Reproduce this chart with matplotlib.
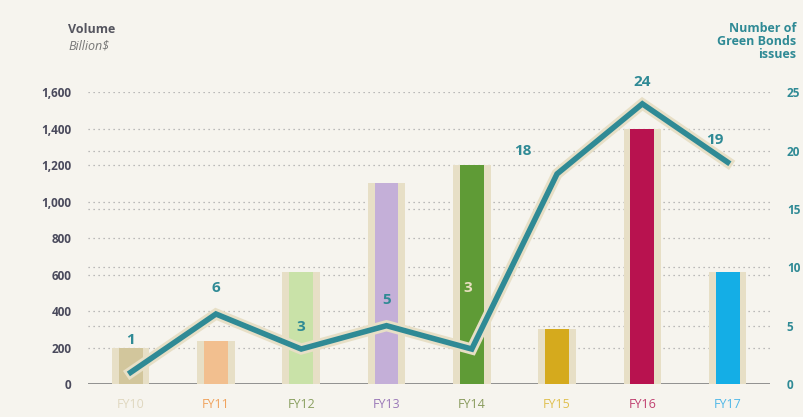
import numpy as np
import matplotlib.pyplot as plt
import matplotlib.patheffects as pe

years = ["FY10", "FY11", "FY12", "FY13", "FY14", "FY15", "FY16", "FY17"]
volume = [200, 235, 615, 1100, 1200, 300, 1400, 615]
issues = [1, 6, 3, 5, 3, 18, 24, 19]
bar_colors = ["#d2c69c", "#f2bf8f", "#c9e2a8", "#c4afd8", "#5f9b36", "#d5aa1d", "#b8124f", "#14aee6"]
label_colors = ["#e0d8c0", "#f0a35e", "#8aa060", "#9a78b8", "#8a9c5e", "#e0c050", "#c04070", "#50b8e8"]
left_ticks = [0, 200, 400, 600, 800, 1000, 1200, 1400, 1600]
right_ticks = [0, 5, 10, 15, 20, 25]

bg = "#f6f4ee"
teal = "#2f8a95"
halo = "#e7dfc6"

plt.rcParams['font.family'] = ['Open Sans', 'DejaVu Sans']

fig = plt.figure(figsize=(8.04, 4.17), dpi=100, facecolor=bg)
ax = fig.add_axes([0.1095, 0.079, 0.8485, 0.7])
ax.set_facecolor(bg)
ax2 = ax.twinx()

x = np.arange(len(years))
ax.set_xlim(-0.5, 7.5)
ax.set_ylim(0, 1600)
ax2.set_ylim(0, 25)

# dotted grid at both scales
grid_levels = left_ticks[1:] + [v * 1600 / 25 for v in right_ticks[1:-1]]
for g in grid_levels:
    ax.axhline(g, color="#a8a8a8", lw=0.9, ls=(0, (1, 3)), zorder=0)
ax.axhline(0, color="#808080", lw=1.2, zorder=1)

ax.bar(x, volume, width=0.44, color=halo, zorder=2)
ax.bar(x, volume, width=0.28, color=bar_colors, zorder=3)

ax2.plot(x, issues, color=teal, lw=4, solid_joinstyle="miter", zorder=5, clip_on=False,
         path_effects=[pe.Stroke(linewidth=8, foreground=halo), pe.Normal()])

offsets = [(0, 2.8), (0, 2.2), (0, 1.9), (0, 2.2), (-0.05, 5.2), (-0.4, 2.0), (0, 1.9), (-0.15, 1.9)]
for i, (v, (dx, dy)) in enumerate(zip(issues, offsets)):
    c = "#e8dfc0" if i == 4 else teal
    ax2.text(x[i] + dx, v + dy, str(v), color=c, fontsize=11, fontweight="bold",
             ha="center", va="center", zorder=6)

for a in (ax, ax2):
    for s in a.spines.values():
        s.set_visible(False)

ax.set_yticks(left_ticks)
ax.set_yticklabels([f"{t:,}" for t in left_ticks])
ax.tick_params(axis="y", length=0, pad=12, labelsize=8.5, labelcolor="#4a4a5c")
for lab in ax.get_yticklabels():
    lab.set_fontweight("bold")

ax2.set_yticks(right_ticks)
ax2.tick_params(axis="y", length=0, pad=12, labelsize=8.5, labelcolor=teal)
for lab in ax2.get_yticklabels():
    lab.set_fontweight("bold")

ax.set_xticks(x)
ax.set_xticklabels(years)
ax.tick_params(axis="x", length=0, pad=10, labelsize=9)
for lab, c in zip(ax.get_xticklabels(), label_colors):
    lab.set_color(c)

fig.text(0.085, 0.93, "Volume", color="#55555f", fontsize=9, fontweight="bold", ha="left", va="center")
fig.text(0.085, 0.89, "Billion$", color="#777777", fontsize=9, fontstyle="italic", ha="left", va="center")
fig.text(0.99, 0.9, "Number of\nGreen Bonds\nissues", color=teal, fontsize=9, fontweight="bold",
         ha="right", va="center", linespacing=1.0)

fig.savefig("out.png", dpi=100, facecolor=bg)
